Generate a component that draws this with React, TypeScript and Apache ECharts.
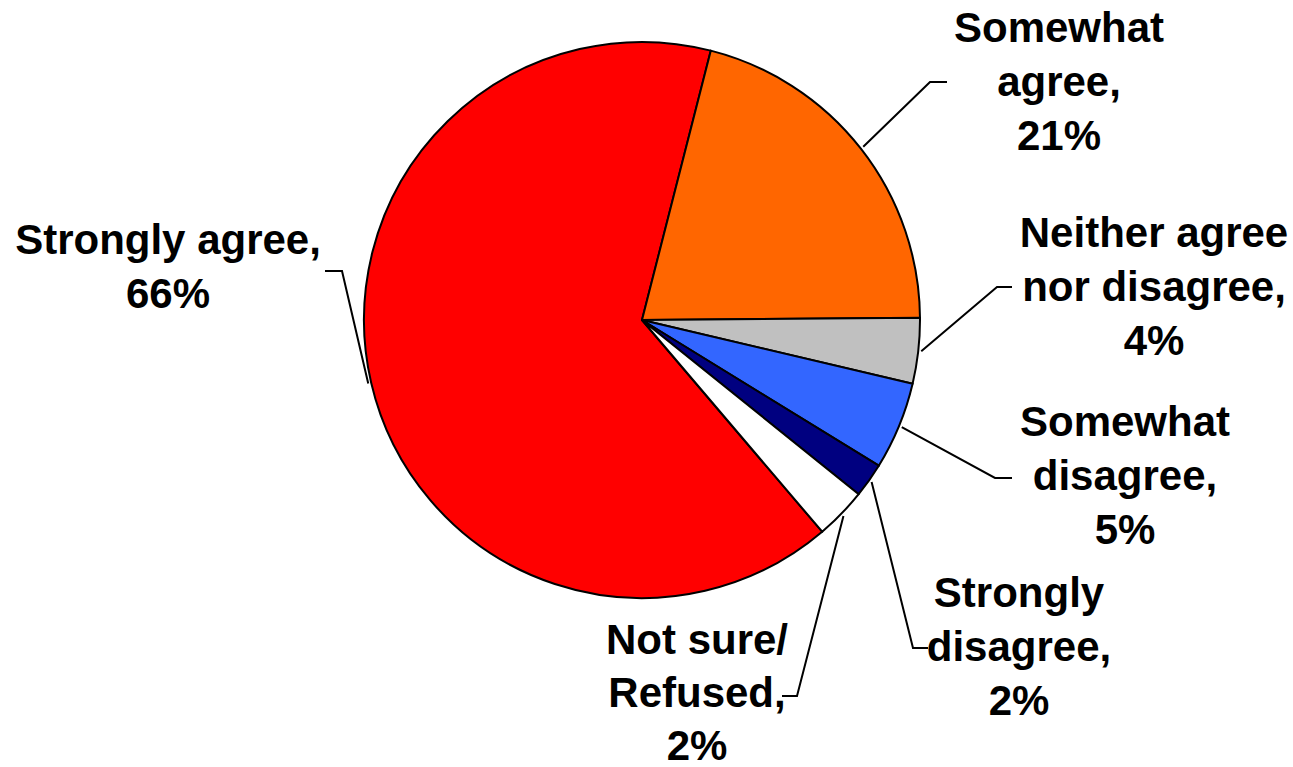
import React, { useEffect, useRef } from "react";
import * as echarts from "echarts";

// Data
const categories = [
  "Strongly agree",
  "Somewhat agree",
  "Neither agree nor disagree",
  "Somewhat disagree",
  "Strongly disagree",
  "Not sure/ Refused",
];
// slice sizes (percent)
const sliceValues = [65.2, 20.9, 3.8, 5.1, 2.0, 3.0];
// percentages printed on the labels
const labelPercents = [66, 21, 4, 5, 2, 2];
// label text as wrapped in the picture
const labelNames = [
  "Strongly agree,",
  "Somewhat\nagree,",
  "Neither agree\nnor disagree,",
  "Somewhat\ndisagree,",
  "Strongly\ndisagree,",
  "Not sure/\nRefused,",
];
const sliceColors = ["#FF0000", "#FF6600", "#C0C0C0", "#3366FF", "#000080", "#FFFFFF"];

// layout constants
const CX = 642;
const CY = 320;
const R = 278;
const START_ANGLE = -49.6; // echarts degrees (counter-clockwise from 3 o'clock)
const LABEL_CENTERS: number[][] = [
  [168, 266],
  [1059, 81],
  [1154, 286],
  [1125, 475],
  [1019, 646],
  [697, 692],
];
const LABEL_LINE_HEIGHTS = [54, 54, 54, 54, 54, 53];
const LEADER_BENDS: number[][][] = [
  [[342, 271], [325, 271]],
  [[930, 82], [947, 82]],
  [[997, 287], [1012, 287]],
  [[995, 478], [1012, 478]],
  [[913, 648], [928, 648]],
  [[797, 696], [782, 696]],
];

export default function App() {
  const ref = useRef<HTMLDivElement>(null);
  useEffect(() => {
    if (!ref.current) return;
    const chart = echarts.init(ref.current, null, { renderer: "svg" });
    const total = sliceValues.reduce((a, b) => a + b, 0);
    // mid-angles (radians, screen coords) of each slice, clockwise
    const mids: number[] = [];
    let acc = 0;
    sliceValues.forEach((v) => {
      const a0 = START_ANGLE - (acc / total) * 360;
      const a1 = START_ANGLE - ((acc + v) / total) * 360;
      mids.push(((a0 + a1) / 2) * (Math.PI / 180));
      acc += v;
    });
    chart.setOption({
      animation: false,
      backgroundColor: "#FFFFFF",
      series: [
        {
          type: "pie",
          center: [CX, CY],
          radius: R,
          startAngle: START_ANGLE,
          clockwise: true,
          avoidLabelOverlap: false,
          emphasis: { disabled: true },
          itemStyle: { borderColor: "#000000", borderWidth: 2 },
          label: {
            show: true,
            position: "outside",
            color: "#000000",
            fontFamily: "'Liberation Sans', Arial, sans-serif",
            fontWeight: "bold",
            fontSize: 42,
            lineHeight: 54,
            align: "center",
            formatter: (p: any) => `${labelNames[p.dataIndex]}\n${labelPercents[p.dataIndex]}%`,
          },
          labelLine: {
            show: true,
            length: 10,
            length2: 10,
            lineStyle: { color: "#000000", width: 2 },
          },
          labelLayout: (p: any) => {
            const i = p.dataIndex;
            const m = mids[i];
            const sx = CX + (R + 3) * Math.cos(m);
            const sy = CY - (R + 3) * Math.sin(m);
            return {
              x: LABEL_CENTERS[i][0],
              y: LABEL_CENTERS[i][1],
              align: "center",
              verticalAlign: "middle",
              labelLinePoints: [[sx, sy], LEADER_BENDS[i][0], LEADER_BENDS[i][1]],
            };
          },
          data: categories.map((name, i) => ({
            name,
            value: sliceValues[i],
            itemStyle: { color: sliceColors[i] },
            label: { lineHeight: LABEL_LINE_HEIGHTS[i] },
          })),
        },
      ],
    });
    return () => chart.dispose();
  }, []);
  return (
    <div
      ref={ref}
      style={{ position: "fixed", left: 0, top: 0, width: 1293, height: 767, background: "#fff" }}
    />
  );
}
